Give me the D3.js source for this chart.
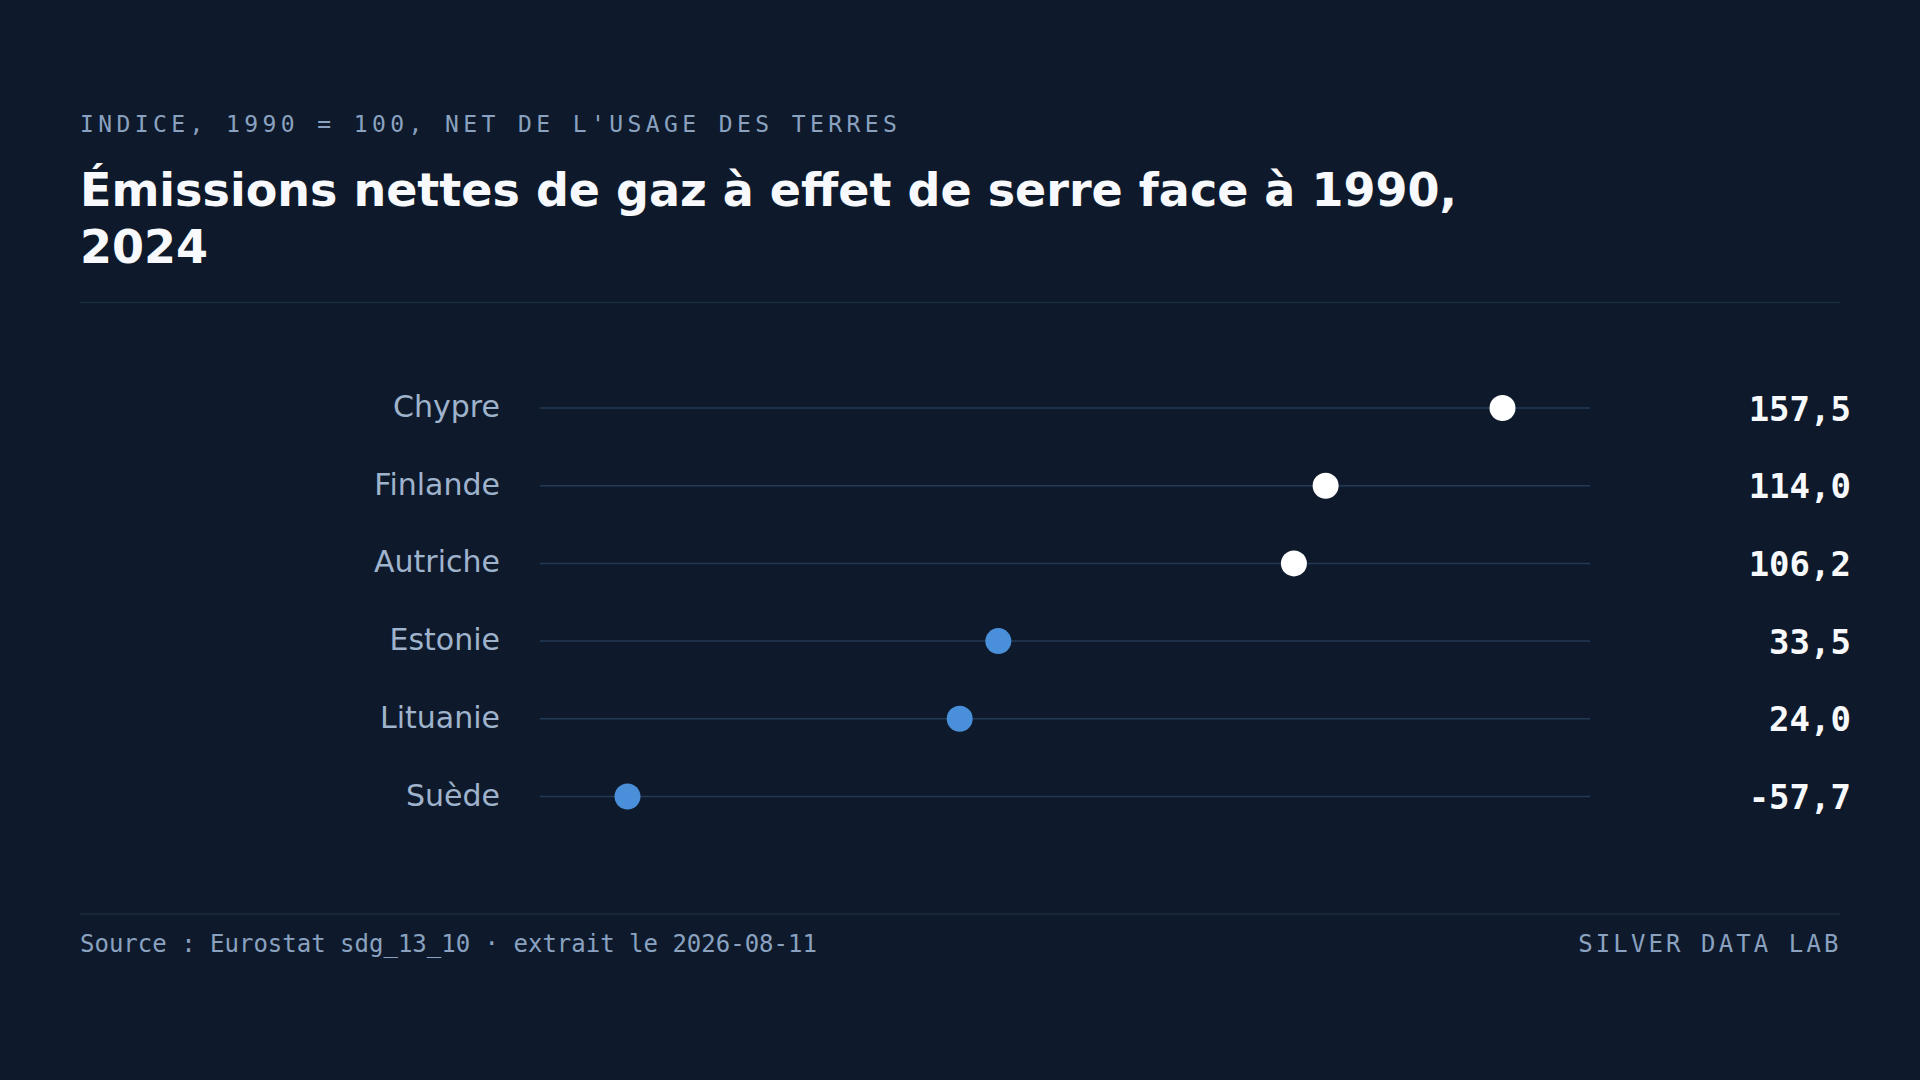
<!DOCTYPE html>
<html>
<head>
<meta charset="utf-8">
<script src="https://cdn.jsdelivr.net/npm/d3@7"></script>
<style>
  html, body { margin: 0; padding: 0; background: #0e1a2b; }
  svg { display: block; }
</style>
</head>
<body>
<svg id="chart" width="1920" height="1080"></svg>
<script>
const countries = ["Chypre", "Finlande", "Autriche", "Estonie", "Lituanie", "Suède"];
const values = [157.5, 114.0, 106.2, 33.5, 24.0, -57.7];
const subtitle = "INDICE, 1990 = 100, NET DE L'USAGE DES TERRES";
const titleLines = ["Émissions nettes de gaz à effet de serre face à 1990,", "2024"];
const sourceText = "Source : Eurostat sdg_13_10 · extrait le 2026-08-11";
const brandText = "SILVER DATA LAB";
const baseline = 100;

const C = {
  bg: "#0e1a2b",
  title: "#f7f9fc",
  muted: "#8aa2c0",
  label: "#9fb3cc",
  rule: "#1a2a3f",
  track: "#233a56",
  hi: "#ffffff",
  lo: "#4a8fd9"
};

const svg = d3.select("#chart");
svg.append("rect").attr("width", 1920).attr("height", 1080).attr("fill", C.bg);

const left = 80, right = 1840;

svg.append("text")
  .attr("x", left).attr("y", 132)
  .attr("font-family", "DejaVu Sans Mono")
  .attr("font-size", 23)
  .attr("letter-spacing", "4.4px")
  .attr("fill", C.muted)
  .text(subtitle);

const title = svg.append("text")
  .attr("font-family", "DejaVu Sans")
  .attr("font-weight", "bold")
  .attr("font-size", 46)
  .attr("fill", C.title);
titleLines.forEach((t, i) => {
  title.append("tspan").attr("x", left).attr("y", 206 + i * 57).text(t);
});

svg.append("line").attr("x1", left).attr("x2", right).attr("y1", 302.5).attr("y2", 302.5)
  .attr("stroke", C.rule).attr("stroke-width", 1.5);

const mn = d3.min(values), mx = d3.max(values), span = mx - mn;
const x = d3.scaleLinear().domain([mn - 0.1 * span, mx + 0.1 * span]).range([540, 1590]);
const y = d3.scalePoint().domain(countries).range([408, 796.5]);

const fmt = d3.formatLocale({decimal: ",", thousands: " ", grouping: [3], currency: ["", " €"], minus: "-"}).format(".1f");

const rows = svg.append("g").selectAll("g").data(countries.map((c, i) => ({c, v: values[i]})))
  .join("g").attr("transform", d => `translate(0,${y(d.c)})`);

rows.append("line")
  .attr("x1", x.range()[0]).attr("x2", x.range()[1])
  .attr("stroke", C.track).attr("stroke-width", 1.5);

rows.append("text")
  .attr("x", 500).attr("dy", "0.3em")
  .attr("text-anchor", "end")
  .attr("font-family", "DejaVu Sans")
  .attr("font-size", 30)
  .attr("fill", C.label)
  .text(d => d.c);

rows.append("circle")
  .attr("cx", d => x(d.v)).attr("r", 13)
  .attr("fill", d => d.v >= baseline ? C.hi : C.lo);

rows.append("text")
  .attr("x", 1851).attr("dy", "0.37em")
  .attr("text-anchor", "end")
  .attr("font-family", "DejaVu Sans Mono")
  .attr("font-weight", "bold")
  .attr("font-size", 34)
  .attr("fill", C.title)
  .text(d => fmt(d.v));

svg.append("line").attr("x1", left).attr("x2", right).attr("y1", 914).attr("y2", 914)
  .attr("stroke", C.rule).attr("stroke-width", 1.5);

svg.append("text")
  .attr("x", left).attr("y", 952)
  .attr("font-family", "DejaVu Sans Mono")
  .attr("font-size", 24)
  .attr("fill", C.muted)
  .text(sourceText);

svg.append("text")
  .attr("x", right + 1.5).attr("y", 952)
  .attr("text-anchor", "end")
  .attr("font-family", "DejaVu Sans Mono")
  .attr("font-size", 24)
  .attr("letter-spacing", "3.1px")
  .attr("fill", C.muted)
  .text(brandText);
</script>
</body>
</html>
